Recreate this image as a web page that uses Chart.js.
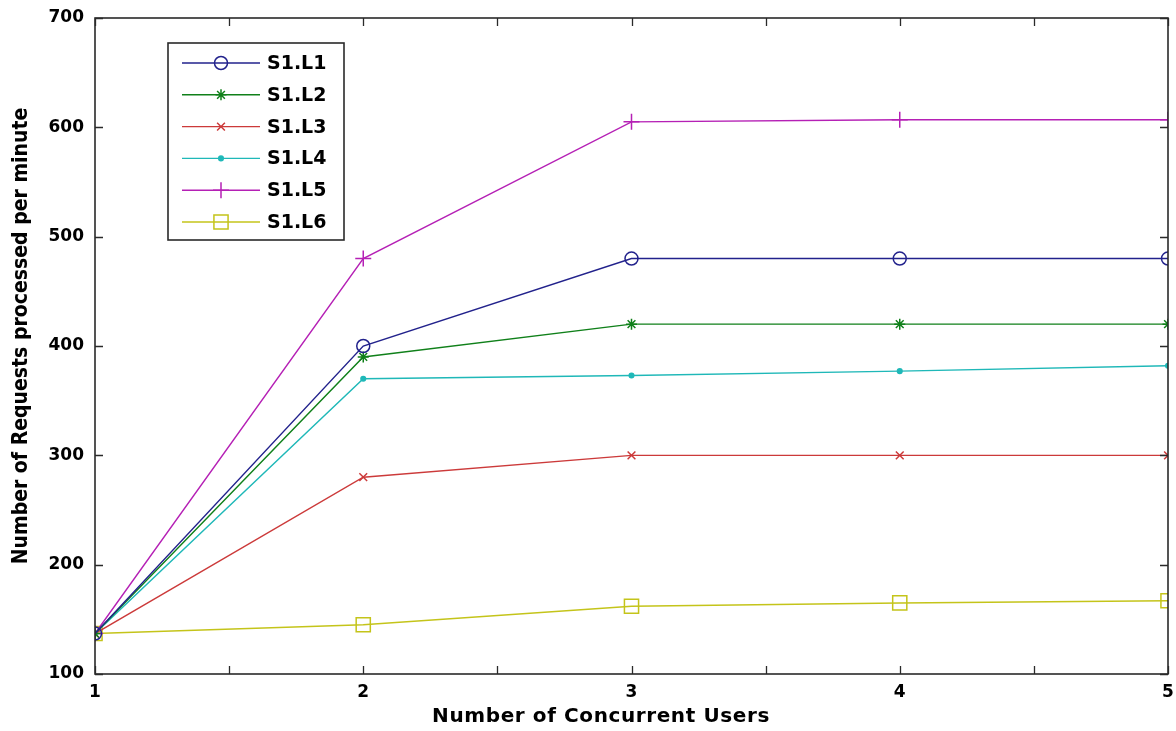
<!DOCTYPE html>
<html>
<head>
<meta charset="utf-8">
<title>Requests per minute vs concurrent users</title>
<script src="https://cdn.jsdelivr.net/npm/chart.js@4.4.1/dist/chart.umd.min.js"></script>
<style>
  html, body { margin: 0; padding: 0; background: #fff; }
  #wrap { width: 1176px; height: 731px; position: relative; }
</style>
</head>
<body>
<div id="wrap"><canvas id="mycanvas"></canvas></div>
<script>
// concurrent users on the x axis
var users = [1, 2, 3, 4, 5];

// requests processed per minute, one array per configuration
var s1l1 = [137, 400, 480, 480, 480];
var s1l2 = [137, 390, 420, 420, 420];
var s1l3 = [137, 280, 300, 300, 300];
var s1l4 = [137, 370, 373, 377, 382];
var s1l5 = [137, 480, 605, 607, 607];
var s1l6 = [137, 145, 162, 165, 167];

var names = ['S1.L1', 'S1.L2', 'S1.L3', 'S1.L4', 'S1.L5', 'S1.L6'];
var yTicks = [100, 200, 300, 400, 500, 600, 700];
var xTitle = 'Number of Concurrent Users';
var yTitle = 'Number of Requests processed per minute';

var boldFont = '"DejaVu Sans", Verdana, sans-serif';
var narrowFont = '"DejaVu Sans Condensed", "Liberation Sans Narrow", sans-serif';

function pts(ys) {
  var out = [];
  for (var i in users) {
    out.push({x: users[i], y: ys[i]});
  }
  return out;
}

function series(name, ys, color, style, radius, filled) {
  return {
    label: name,
    data: pts(ys),
    borderColor: color,
    backgroundColor: filled ? color : 'rgba(0,0,0,0)',
    borderWidth: 1.4,
    pointStyle: style,
    pointRadius: radius,
    pointHoverRadius: radius,
    pointBorderColor: color,
    pointBackgroundColor: filled ? color : 'rgba(0,0,0,0)',
    pointBorderWidth: 1.5,
    tension: 0,
    fill: false
  };
}

var datasets = [
  series(names[0], s1l1, '#22228c', 'circle', 6.5, false),
  series(names[1], s1l2, '#10801a', 'star', 5.5, false),
  series(names[2], s1l3, '#cc3a3a', 'crossRot', 5.5, false),
  series(names[3], s1l4, '#1fb8b8', 'circle', 2.3, true),
  series(names[4], s1l5, '#b520b5', 'cross', 8, false),
  series(names[5], s1l6, '#c4c41a', 'rect', 10, false)
];

// box around the plot with inward ticks on all four sides, plus axis titles
var frame = {
  id: 'frame',
  afterDatasetsDraw: function(chart) {
    var ctx = chart.ctx, a = chart.chartArea;
    var xs = chart.scales.x, ys = chart.scales.y;
    var len = 8;
    ctx.save();
    ctx.strokeStyle = '#2a2a2a';
    ctx.lineWidth = 1.6;
    ctx.strokeRect(a.left, a.top, a.right - a.left, a.bottom - a.top);
    ctx.lineWidth = 1.3;
    ctx.beginPath();
    for (var v = xs.min; v <= xs.max + 1e-9; v += 0.5) {
      var px = Math.round(xs.getPixelForValue(v)) + 0.5;
      ctx.moveTo(px, a.bottom); ctx.lineTo(px, a.bottom - len);
      ctx.moveTo(px, a.top); ctx.lineTo(px, a.top + len);
    }
    for (var j in yTicks) {
      var py = Math.round(ys.getPixelForValue(yTicks[j])) + 0.5;
      ctx.moveTo(a.left, py); ctx.lineTo(a.left + len, py);
      ctx.moveTo(a.right, py); ctx.lineTo(a.right - len, py);
    }
    ctx.stroke();

    ctx.fillStyle = '#000';
    ctx.textAlign = 'center';
    ctx.textBaseline = 'middle';
    ctx.font = 'bold 20px ' + boldFont;
    ctx.letterSpacing = '0.6px';
    ctx.fillText(xTitle, chart.width / 2 + 13, a.bottom + 43);

    ctx.letterSpacing = '0px';
    ctx.font = 'bold 21px ' + narrowFont;
    ctx.translate(22, (a.top + a.bottom) / 2 - 10);
    ctx.rotate(-Math.PI / 2);
    ctx.fillText(yTitle, 0, 0);
    ctx.restore();
  }
};

// legend box with a line sample and marker per series
var legendBox = {
  id: 'legendBox',
  afterDraw: function(chart) {
    var ctx = chart.ctx, a = chart.chartArea;
    var bx = a.left + 73, by = a.top + 25, bw = 176, bh = 197;
    var rowH = 31.8;
    ctx.save();
    ctx.fillStyle = '#fff';
    ctx.fillRect(bx, by, bw, bh);
    ctx.strokeStyle = '#2a2a2a';
    ctx.lineWidth = 1.6;
    ctx.strokeRect(bx, by, bw, bh);
    ctx.font = 'bold 19px ' + boldFont;
    ctx.textBaseline = 'middle';
    chart.data.datasets.forEach(function(ds, i) {
      var y = by + 20 + i * rowH;
      ctx.strokeStyle = ds.borderColor;
      ctx.lineWidth = 1.4;
      ctx.beginPath();
      ctx.moveTo(bx + 14, y); ctx.lineTo(bx + 92, y);
      ctx.stroke();
      ctx.fillStyle = ds.pointBackgroundColor;
      ctx.strokeStyle = ds.pointBorderColor;
      ctx.lineWidth = ds.pointBorderWidth;
      Chart.helpers.drawPoint(ctx, {
        pointStyle: ds.pointStyle,
        radius: ds.pointRadius,
        borderWidth: ds.pointBorderWidth,
        rotation: 0
      }, bx + 53, y);
      ctx.fillStyle = '#000';
      ctx.fillText(ds.label, bx + 99, y + 1);
    });
    ctx.restore();
  }
};

var ctx = document.getElementById('mycanvas');

var lineGraph = new Chart(ctx, {
  type: 'line',
  data: { datasets: datasets },
  plugins: [frame, legendBox],
  options: {
    responsive: true,
    maintainAspectRatio: false,
    animation: false,
    layout: {
      autoPadding: false,
      padding: { top: 18, right: 8, left: 0, bottom: 0 }
    },
    plugins: {
      legend: { display: false },
      tooltip: { enabled: false }
    },
    scales: {
      x: {
        type: 'linear',
        min: 1,
        max: 5,
        offset: false,
        afterFit: function(scale) {
          scale.height = 57;
          scale.paddingLeft = 0;
          scale.paddingRight = 0;
          scale.paddingTop = 0;
          scale.paddingBottom = 0;
        },
        grid: { display: false, drawTicks: false },
        border: { display: false },
        ticks: {
          stepSize: 1,
          padding: 8,
          color: '#000',
          font: { family: boldFont, size: 17, weight: 'bold' }
        }
      },
      y: {
        min: 100,
        max: 700,
        afterFit: function(scale) {
          scale.width = 95;
          scale.paddingLeft = 0;
          scale.paddingRight = 0;
          scale.paddingTop = 0;
          scale.paddingBottom = 0;
        },
        afterBuildTicks: function(scale) {
          scale.ticks = yTicks.map(function(v) { return { value: v }; });
        },
        grid: { display: false, drawTicks: false },
        border: { display: false },
        ticks: {
          padding: 11,
          color: '#000',
          font: { family: boldFont, size: 17, weight: 'bold' }
        }
      }
    }
  }
});
</script>
</body>
</html>
